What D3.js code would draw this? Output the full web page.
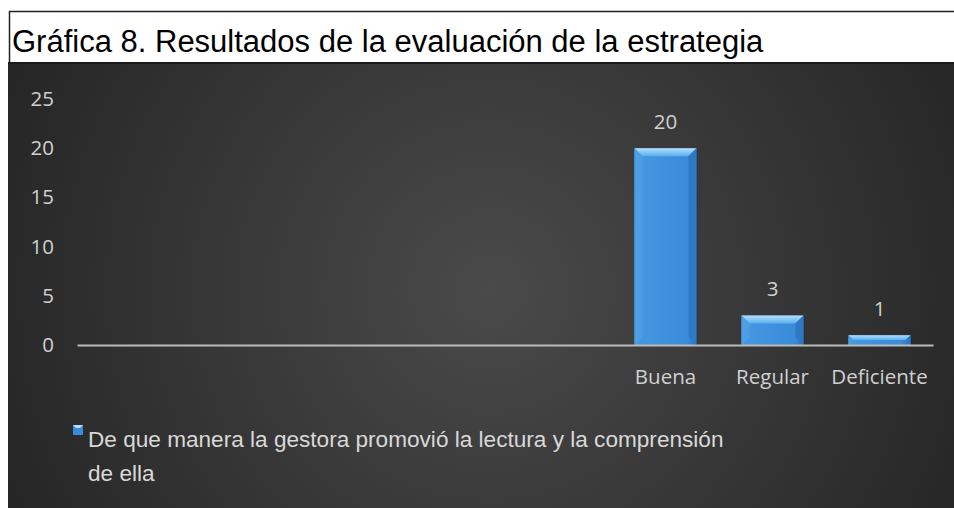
<!DOCTYPE html>
<html>
<head>
<meta charset="utf-8">
<script src="https://cdn.jsdelivr.net/npm/d3@7/dist/d3.min.js"></script>
<style>
  body { margin: 0; background: #fff; }
  svg { display: block; }
</style>
</head>
<body>
<div id="chart"></div>
<script>
// chart data
var categories = ["", "", "", "", "", "Buena", "Regular", "Deficiente"];
var values = [null, null, null, null, null, 20, 3, 1];
var yTicks = [0, 5, 10, 15, 20, 25];
var titleText = "Gráfica 8. Resultados de la evaluación de la estrategia";
var legendLines = ["De que manera la gestora promovió la lectura y la comprensión", "de ella"];

var W = 954, H = 508;
var plot = {left: 77, right: 933, top: 99, bottom: 345};

var svg = d3.select("#chart")
  .append("svg")
  .attr("width", W)
  .attr("height", H);

var defs = svg.append("defs");

var bg = defs.append("radialGradient")
  .attr("id", "bg")
  .attr("gradientUnits", "userSpaceOnUse")
  .attr("cx", 490).attr("cy", 290).attr("r", 580);
bg.append("stop").attr("offset", "0%").attr("stop-color", "#4a4a4a");
bg.append("stop").attr("offset", "100%").attr("stop-color", "#222");

var topBevel = defs.append("linearGradient")
  .attr("id", "topBevel")
  .attr("x1", 0).attr("y1", 0).attr("x2", 0).attr("y2", 1);
topBevel.append("stop").attr("offset", "0%").attr("stop-color", "#b4e0fb");
topBevel.append("stop").attr("offset", "100%").attr("stop-color", "#5aaef0");

var body = defs.append("linearGradient")
  .attr("id", "barBody")
  .attr("x1", 0).attr("y1", 0).attr("x2", 1).attr("y2", 0);
body.append("stop").attr("offset", "0%").attr("stop-color", "#4598e0");
body.append("stop").attr("offset", "85%").attr("stop-color", "#3a8cda");
body.append("stop").attr("offset", "100%").attr("stop-color", "#2c6fb8");

// title area
svg.append("text")
  .attr("x", 12)
  .attr("y", 52)
  .style("font-family", "'Liberation Sans', Arial, sans-serif")
  .style("font-size", "31px")
  .style("fill", "#000")
  .text(titleText);

svg.append("path")
  .attr("d", "M9.5,63 V11.5 H954")
  .attr("fill", "none")
  .attr("stroke", "#222")
  .attr("stroke-width", 1.5);

// dark panel
svg.append("rect")
  .attr("x", 8).attr("y", 62)
  .attr("width", W - 8).attr("height", H - 62)
  .attr("fill", "url(#bg)");
svg.append("line")
  .attr("x1", 8).attr("x2", W)
  .attr("y1", 63).attr("y2", 63)
  .attr("stroke", "#1a1a1a").attr("stroke-width", 2);

var x = d3.scaleBand()
  .domain(d3.range(categories.length))
  .range([plot.left, plot.right])
  .paddingInner(0.42)
  .paddingOuter(0.21);

var y = d3.scaleLinear()
  .domain([0, 25])
  .range([plot.bottom, plot.top]);

var labelFont = "'Open Sans', 'Noto Sans', sans-serif";

// y axis labels
var yAxis = svg.append("g")
  .attr("transform", "translate(54,0)")
  .call(d3.axisLeft(y).tickValues(yTicks).tickSize(0).tickPadding(0));
yAxis.select(".domain").remove();
yAxis.selectAll("text")
  .style("font-family", labelFont)
  .style("font-size", "20.5px")
  .style("fill", "#d0d0d0");

// bars
var data = values.map(function(v, i) { return {i: i, v: v}; })
  .filter(function(d) { return d.v != null; });

var bars = svg.selectAll(".bar")
  .data(data)
  .enter()
  .append("g")
  .attr("class", "bar");

bars.each(function(d) {
  var g = d3.select(this);
  var x0 = x(d.i), w = x.bandwidth();
  var y0 = y(d.v), y1 = y(0), h = y1 - y0;
  var b = Math.min(8, h / 2);
  g.append("rect")
    .attr("x", x0 + 1).attr("y", y0 + 1)
    .attr("width", w).attr("height", h)
    .attr("fill", "#16283a").attr("opacity", 0.6);
  g.append("rect")
    .attr("x", x0).attr("y", y0)
    .attr("width", w).attr("height", h)
    .attr("fill", "url(#barBody)");
  g.append("polygon")
    .attr("points", [[x0, y0], [x0 + w, y0], [x0 + w - b, y0 + b], [x0 + b, y0 + b]].join(" "))
    .attr("fill", "url(#topBevel)");
  g.append("polygon")
    .attr("points", [[x0, y0], [x0 + b, y0 + b], [x0 + b, y1 - b], [x0, y1]].join(" "))
    .attr("fill", "#4c9fe4");
  g.append("polygon")
    .attr("points", [[x0 + w, y0], [x0 + w - b, y0 + b], [x0 + w - b, y1 - b], [x0 + w, y1]].join(" "))
    .attr("fill", "#2f78c4");
});

// value labels
svg.selectAll(".value")
  .data(data)
  .enter()
  .append("text")
  .attr("class", "value")
  .attr("x", function(d) { return x(d.i) + x.bandwidth() / 2; })
  .attr("y", function(d) { return y(d.v) - 19; })
  .attr("text-anchor", "middle")
  .style("font-family", labelFont)
  .style("font-size", "20.5px")
  .style("fill", "#d0d0d0")
  .text(function(d) { return d.v; });

// x axis
var xAxis = svg.append("g")
  .attr("transform", "translate(0," + plot.bottom + ")")
  .call(d3.axisBottom(x).tickSize(0).tickPadding(24)
    .tickFormat(function(i) { return categories[i]; }));
xAxis.select(".domain")
  .attr("stroke", "#bcbcbc")
  .attr("stroke-width", 2);
xAxis.selectAll("text")
  .style("font-family", labelFont)
  .style("font-size", "20.5px")
  .style("fill", "#d0d0d0");

// legend
svg.append("rect")
  .attr("x", 73).attr("y", 425)
  .attr("width", 10).attr("height", 10)
  .attr("fill", "#3a8cda");
svg.append("polygon")
  .attr("points", "73,425 83,425 80,428 76,428")
  .attr("fill", "#b4e0fb");

svg.append("g")
  .selectAll("text")
  .data(legendLines)
  .enter()
  .append("text")
  .attr("x", 88)
  .attr("y", function(d, i) { return 447 + i * 34; })
  .style("font-family", "'Liberation Sans', Arial, sans-serif")
  .style("font-size", "22.6px")
  .style("fill", "#d8d8d8")
  .text(function(d) { return d; });
</script>
</body>
</html>
